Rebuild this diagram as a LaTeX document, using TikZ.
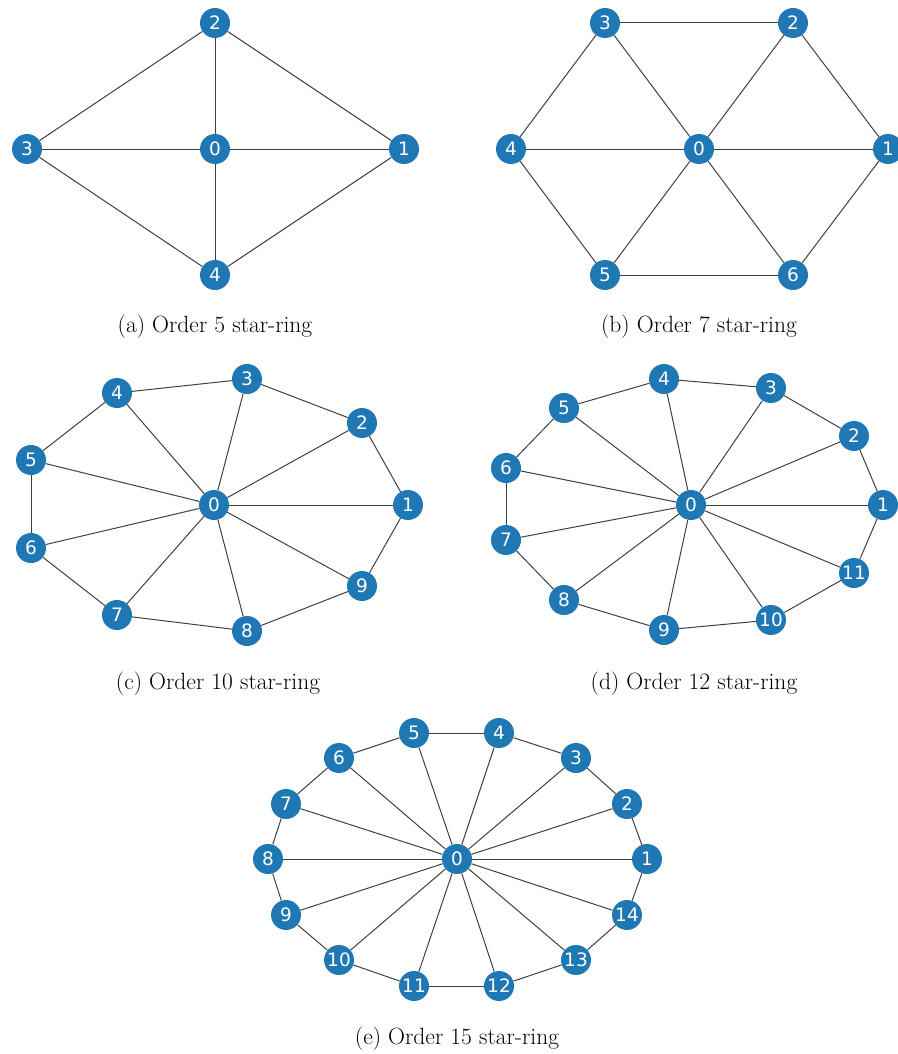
\documentclass[tikz,border=0pt]{standalone}
\usepackage{fontspec}
\newfontfamily\nodefont{DejaVu Sans}
\usetikzlibrary{backgrounds}
\definecolor{nxblue}{HTML}{1F77B4}
\definecolor{edgegray}{HTML}{404040}
\begin{document}
\begin{tikzpicture}[x=1pt,y=-1pt,
  vtx/.style={circle,fill=nxblue,minimum size=30pt,inner sep=0pt,text=white,font=\nodefont\fontsize{18.5}{18.5}\selectfont},
  edge/.style={draw=edgegray,line width=1pt},
  captext/.style={font=\fontsize{23.5}{27}\selectfont,inner sep=0pt}]
\useasboundingbox (0,0) rectangle (897,1054);
% (a) order 5
\node[vtx] (a0) at (215,149) {0};
\node[vtx] (a1) at (404,149) {1};
\node[vtx] (a2) at (215,23) {2};
\node[vtx] (a3) at (27,149) {3};
\node[vtx] (a4) at (215,275) {4};
\node[captext] (capa) at (215,327) {(a) Order 5 star-ring};
% (b) order 7
\node[vtx] (b0) at (699,149) {0};
\node[vtx] (b1) at (888,149) {1};
\node[vtx] (b2) at (793,23) {2};
\node[vtx] (b3) at (605,23) {3};
\node[vtx] (b4) at (511,149) {4};
\node[vtx] (b5) at (605,275) {5};
\node[vtx] (b6) at (793,275) {6};
\node[captext] (capb) at (699,327) {(b) Order 7 star-ring};
% (c) order 10
\node[vtx] (c0) at (214,505) {0};
\node[vtx] (c1) at (408,505) {1};
\node[vtx] (c2) at (362,423) {2};
\node[vtx] (c3) at (247,379) {3};
\node[vtx] (c4) at (117,393) {4};
\node[vtx] (c5) at (31,460) {5};
\node[vtx] (c6) at (31,548) {6};
\node[vtx] (c7) at (117,615) {7};
\node[vtx] (c8) at (247,631) {8};
\node[vtx] (c9) at (362,586) {9};
\node[captext] (capc) at (218,684) {(c) Order 10 star-ring};
% (d) order 12
\node[vtx] (d0) at (691,505) {0};
\node[vtx] (d1) at (883,505) {1};
\node[vtx] (d2) at (854,436) {2};
\node[vtx] (d3) at (771,388) {3};
\node[vtx] (d4) at (664,379) {4};
\node[vtx] (d5) at (564,408) {5};
\node[vtx] (d6) at (506,468) {6};
\node[vtx] (d7) at (506,540) {7};
\node[vtx] (d8) at (564,600) {8};
\node[vtx] (d9) at (664,630) {9};
\node[vtx] (d10) at (771,620) {10};
\node[vtx] (d11) at (854,573) {11};
\node[captext] (capd) at (694,684) {(d) Order 12 star-ring};
% (e) order 15
\node[vtx] (e0) at (457,859) {0};
\node[vtx] (e1) at (647,859) {1};
\node[vtx] (e2) at (627,804) {2};
\node[vtx] (e3) at (576,758) {3};
\node[vtx] (e4) at (499,733) {4};
\node[vtx] (e5) at (414,733) {5};
\node[vtx] (e6) at (339,758) {6};
\node[vtx] (e7) at (286,804) {7};
\node[vtx] (e8) at (268,859) {8};
\node[vtx] (e9) at (286,915) {9};
\node[vtx] (e10) at (339,960) {10};
\node[vtx] (e11) at (414,986) {11};
\node[vtx] (e12) at (499,986) {12};
\node[vtx] (e13) at (576,960) {13};
\node[vtx] (e14) at (627,915) {14};
\node[captext] (cape) at (457,1039) {(e) Order 15 star-ring};
\begin{pgfonlayer}{background}
\foreach \g/\m in {a/4,b/6,c/9,d/11,e/14}{
  \foreach \i in {1,...,\m}{
    \pgfmathtruncatemacro{\j}{mod(\i,\m)+1}
    \draw[edge] (\g0) -- (\g\i);
    \draw[edge] (\g\i) -- (\g\j);
  }
}
\end{pgfonlayer}
\end{tikzpicture}
\end{document}
